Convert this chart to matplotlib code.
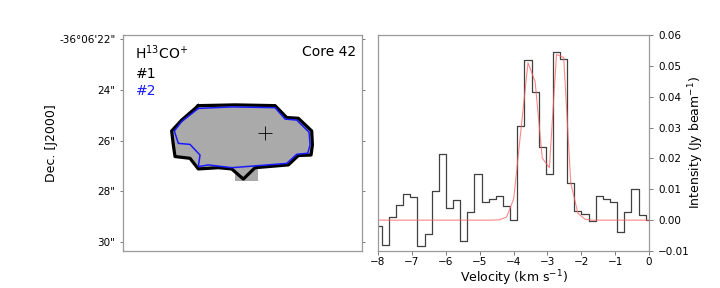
import numpy as np
import matplotlib
matplotlib.use("Agg")
import matplotlib.pyplot as plt

plt.rcParams.update({"font.family": "DejaVu Sans"})

# spectrum: channel centres (km/s), observed intensity and fit (Jy/beam)
velocity = [-7.995, -7.784, -7.574, -7.363, -7.153, -6.942, -6.731, -6.521,
            -6.310, -6.100, -5.889, -5.678, -5.468, -5.257, -5.047, -4.836,
            -4.625, -4.415, -4.204, -3.994, -3.783, -3.572, -3.362, -3.151,
            -2.941, -2.730, -2.519, -2.309, -2.098, -1.888, -1.677, -1.466,
            -1.256, -1.045, -0.835, -0.624, -0.413, -0.203, 0.008]
intensity = [-0.0020, -0.0081, 0.0010, 0.0048, 0.0084, 0.0074, -0.0084, -0.0044,
             0.0093, 0.0213, 0.0039, 0.0064, -0.0067, 0.0026, 0.0149, 0.0060,
             0.0068, 0.0077, 0.0045, 0.0001, 0.0305, 0.0520, 0.0416, 0.0238,
             0.0149, 0.0544, 0.0521, 0.0119, 0.0031, 0.0019, -0.0004, 0.0077,
             0.0068, 0.0060, -0.0039, 0.0026, 0.0100, 0.0016, 0.0000]
fit = [0.0, 0.0, 0.0, 0.0, 0.0, 0.0, 0.0, 0.0,
       0.0, 0.0, 0.0, 0.0, 0.0, 0.0, 0.0, 0.0,
       0.0, 0.0001, 0.0010, 0.0069, 0.0290, 0.0510, 0.0449, 0.0201,
       0.0170, 0.0537, 0.0527, 0.0120, 0.0022, 0.0003, 0.0, 0.0,
       0.0, 0.0, 0.0, 0.0, 0.0, 0.0, 0.0]

# core outlines, RA offset (arcsec from left edge) and Dec seconds (-36d06'xx")
contour1_x = [2.973, 4.422, 6.001, 6.461, 6.921, 7.448, 7.475, 7.422, 6.921, 6.527,
              5.211, 4.750, 4.290, 3.763, 2.973, 2.645, 2.053, 1.987, 1.921, 2.316]
contour1_y = [24.62, 24.59, 24.62, 25.09, 25.12, 25.62, 26.17, 26.57, 26.59, 26.96,
              27.07, 27.52, 27.12, 27.07, 27.12, 26.70, 26.63, 26.17, 25.62, 25.19]
contour2_x = [2.973, 4.290, 6.001, 6.396, 6.856, 7.343, 7.383, 7.290, 6.856, 6.461,
              5.211, 4.290, 3.368, 2.973, 3.040, 2.645, 2.184, 2.026, 2.316]
contour2_y = [24.73, 24.67, 24.70, 25.15, 25.19, 25.67, 26.17, 26.50, 26.54, 26.90,
              27.00, 27.07, 26.96, 27.03, 26.57, 26.15, 26.11, 25.62, 25.25]
# extra mask pixels sticking out of the outline
mask_x = [4.42, 5.34, 5.34, 4.42]
mask_y = [27.07, 27.07, 27.59, 27.59]
peak = (5.606, 25.686)

dec_ticks = [22, 24, 26, 28, 30]
dec_labels = ["-36\u00b006'22\"", "24\"", "26\"", "28\"", "30\""]

fig = plt.figure(figsize=(7.2, 2.88), dpi=100)
ax1 = fig.add_axes([0.1708, 0.1285, 0.3319, 0.75])
ax2 = fig.add_axes([0.525, 0.1285, 0.3764, 0.75])

grey = "#aaaaaa"
ax1.fill(contour1_x, contour1_y, color=grey, lw=0)
ax1.fill(mask_x, mask_y, color=grey, lw=0)
ax1.plot(contour1_x + contour1_x[:1], contour1_y + contour1_y[:1], color="k", lw=2.3,
         solid_joinstyle="round")
ax1.plot(contour2_x + contour2_x[:1], contour2_y + contour2_y[:1], color="#1a1aff", lw=1.1)
ax1.plot(peak[0], peak[1], "k+", ms=10.5, mew=0.6)

ax1.set_xlim(0, 9.43)
ax1.set_ylim(30.36, 21.83)
ax1.set_xticks([])
ax1.set_yticks(dec_ticks)
ax1.set_yticklabels(dec_labels)
ax1.tick_params(axis="y", labelsize=7.5, length=2, width=0.6, right=True, color="0.4")
ax1.set_ylabel("Dec. [J2000]", fontsize=9)
ax1.yaxis.set_label_coords(-0.272, 0.5)

ax1.text(0.05, 0.962, "H$^{13}$CO$^{+}$", transform=ax1.transAxes, fontsize=10,
         ha="left", va="top")
ax1.text(0.975, 0.952, "Core 42", transform=ax1.transAxes, fontsize=10,
         ha="right", va="top")
ax1.text(0.054, 0.85, "#1", transform=ax1.transAxes, fontsize=10, ha="left", va="top",
         color="k")
ax1.text(0.054, 0.772, "#2", transform=ax1.transAxes, fontsize=10, ha="left", va="top",
         color="#1a1aff")

ax2.step(velocity, intensity, where="mid", color="k", lw=0.9, alpha=0.75)
ax2.plot(velocity, fit, color="#ff6060", lw=0.8, alpha=0.75)
ax2.set_xlim(-8, 0)
ax2.set_ylim(-0.01, 0.06)
ax2.set_xticks(np.arange(-8, 1, 1))
ax2.set_yticks([-0.01, 0.0, 0.01, 0.02, 0.03, 0.04, 0.05, 0.06])
ax2.yaxis.tick_right()
ax2.yaxis.set_label_position("right")
ax2.tick_params(labelsize=7.5, length=3, width=0.6, color="0.4")
ax2.tick_params(axis="x", pad=1.5)
ax2.set_xlabel("Velocity (km s$^{-1}$)", fontsize=9, labelpad=0.5)
ax2.set_ylabel("Intensity (Jy beam$^{-1}$)", fontsize=9)
ax2.yaxis.set_label_coords(1.137, 0.5)

for ax in (ax1, ax2):
    for sp in ax.spines.values():
        sp.set_color("0.6")
        sp.set_linewidth(0.9)

fig.savefig("out.png", dpi=100)
